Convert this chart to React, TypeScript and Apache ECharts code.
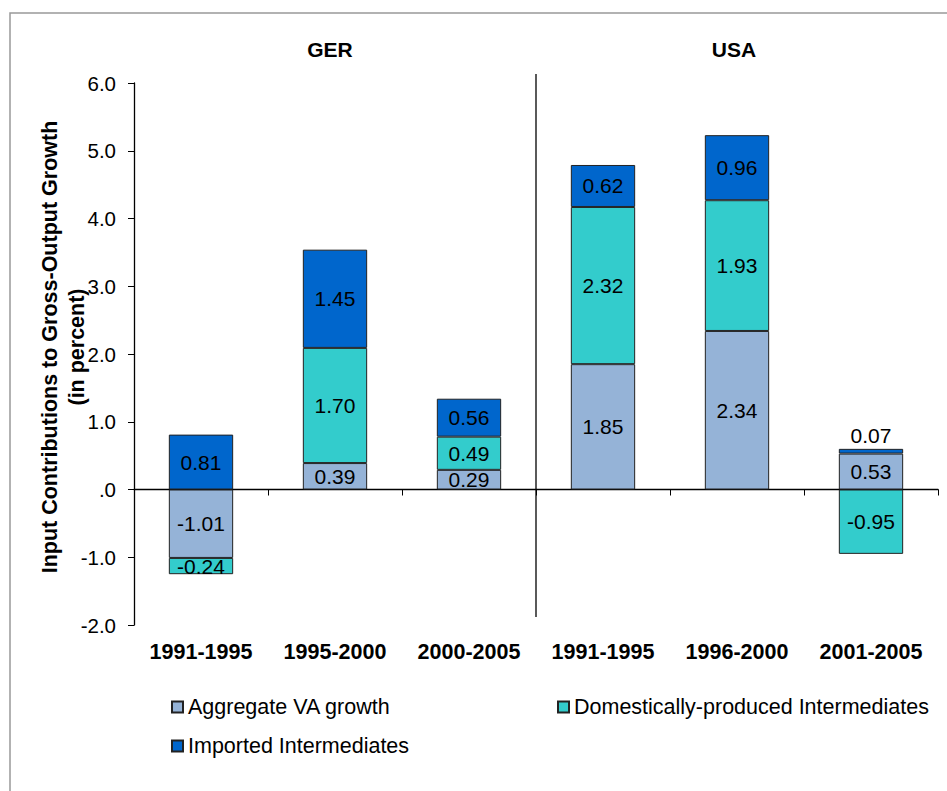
import React, { useEffect, useRef } from 'react';
import * as echarts from 'echarts';

const categories = ['1991-1995', '1995-2000', '2000-2005', '1991-1995', '1996-2000', '2001-2005'];
const groupTitles = ['GER', 'USA'];
const aggregateVA = [-1.01, 0.39, 0.29, 1.85, 2.34, 0.53];
const domesticInter = [-0.24, 1.70, 0.49, 2.32, 1.93, -0.95];
const importedInter = [0.81, 1.45, 0.56, 0.62, 0.96, 0.07];
const seriesNames = ['Aggregate VA growth', 'Domestically-produced Intermediates', 'Imported Intermediates'];
const seriesColors = ['#95B3D7', '#33CCCC', '#0066CC'];
const yMin = -2;
const yMax = 6;
const yStep = 1;

const FONT = 'Arial, "Liberation Sans", sans-serif';

function makeSeries(name: string, values: number[], color: string) {
  return {
    name,
    type: 'bar',
    stack: 'total',
    xAxisIndex: 0,
    barWidth: '48%',
    itemStyle: { color, borderColor: '#222', borderWidth: 1 },
    label: {
      show: true,
      position: 'inside',
      color: '#000',
      fontSize: 21,
      fontFamily: FONT,
      formatter: (p: any) => Number(p.value).toFixed(2),
    },
    data: values.map((v) =>
      Math.abs(v) < 0.1 ? { value: v, label: { position: 'top', distance: 3 } } : v
    ),
  };
}

export default function App() {
  const ref = useRef<HTMLDivElement>(null);
  useEffect(() => {
    if (!ref.current) return;
    const chart = echarts.init(ref.current, undefined, { renderer: 'svg' });
    const legendText = { fontSize: 21.5, color: '#000', fontFamily: FONT };
    chart.setOption({
      animation: false,
      backgroundColor: '#fff',
      textStyle: { fontFamily: FONT },
      grid: { left: 134, top: 83, right: 9, bottom: 166, containLabel: false },
      legend: [
        {
          data: [seriesNames[0]], left: 171, top: 696, padding: 0, icon: 'rect', itemWidth: 11, itemHeight: 11,
          textStyle: legendText, selectedMode: false,
        },
        {
          data: [seriesNames[1]], left: 557, top: 696, padding: 0, icon: 'rect', itemWidth: 11, itemHeight: 11,
          textStyle: legendText, selectedMode: false,
        },
        {
          data: [seriesNames[2]], left: 171, top: 735, padding: 0, icon: 'rect', itemWidth: 11, itemHeight: 11,
          textStyle: legendText, selectedMode: false,
        },
      ],
      xAxis: [
        {
          type: 'category',
          data: categories,
          position: 'bottom',
          axisLine: { show: true, onZero: true, lineStyle: { color: '#000', width: 1.3 } },
          axisTick: { show: true, alignWithLabel: false, length: 6, interval: 0, lineStyle: { color: '#000' } },
          axisLabel: { show: false },
          splitLine: { show: false },
        },
        {
          type: 'category',
          data: categories,
          position: 'bottom',
          axisLine: { show: false, onZero: false },
          axisTick: { show: false },
          axisLabel: {
            show: true, interval: 0, margin: 16, color: '#000', fontSize: 21.5, fontWeight: 'bold', fontFamily: FONT,
          },
          splitLine: { show: false },
        },
      ],
      yAxis: {
        type: 'value',
        min: yMin,
        max: yMax,
        interval: yStep,
        axisLine: { show: true, lineStyle: { color: '#000', width: 1.3 } },
        axisTick: { show: true, length: 6, lineStyle: { color: '#000' } },
        splitLine: { show: false },
        axisLabel: {
          color: '#000', fontSize: 20.5, margin: 18, fontFamily: FONT,
          formatter: (v: number) => (v === 0 ? '.0' : v.toFixed(1)),
        },
        name: 'Input Contributions to Gross-Output Growth\n(in percent)',
        nameLocation: 'middle',
        nameRotate: 90,
        nameGap: 44,
        nameMoveOverlap: false,
        nameTextStyle: { fontSize: 21.5, fontWeight: 'bold', color: '#000', lineHeight: 27, fontFamily: FONT, padding: [0, 0, 0, 14] },
      },
      series: [
        makeSeries(seriesNames[0], aggregateVA, seriesColors[0]),
        makeSeries(seriesNames[1], domesticInter, seriesColors[1]),
        makeSeries(seriesNames[2], importedInter, seriesColors[2]),
      ],
    });

    const p2 = chart.convertToPixel({ xAxisIndex: 0 }, 2) as number;
    const p3 = chart.convertToPixel({ xAxisIndex: 0 }, 3) as number;
    const p0 = chart.convertToPixel({ xAxisIndex: 0 }, 0) as number;
    const p5 = chart.convertToPixel({ xAxisIndex: 0 }, 5) as number;
    const sepX = (p2 + p3) / 2;
    const half = (p3 - p2) / 2;
    const leftCenter = (p0 - half + sepX) / 2;
    const rightCenter = (sepX + p5 + half) / 2;

    chart.setOption({
      graphic: [
        {
          type: 'rect', silent: true, z: -1,
          shape: { x: 10, y: 13, width: 1200, height: 1200 },
          style: { fill: 'none', stroke: '#999', lineWidth: 1.5 },
        },
        {
          type: 'line', silent: true,
          shape: { x1: sepX, y1: 74, x2: sepX, y2: 617 },
          style: { stroke: '#000', lineWidth: 1.3 },
        },
        {
          type: 'text', silent: true, x: leftCenter - 5, y: 49,
          style: { text: groupTitles[0], fontSize: 21, fontWeight: 'bold', fill: '#000', align: 'center', verticalAlign: 'middle', fontFamily: FONT },
        },
        {
          type: 'text', silent: true, x: rightCenter - 3, y: 49,
          style: { text: groupTitles[1], fontSize: 21, fontWeight: 'bold', fill: '#000', align: 'center', verticalAlign: 'middle', fontFamily: FONT },
        },
      ],
    });

    return () => chart.dispose();
  }, []);
  return <div ref={ref} style={{ position: 'fixed', left: 0, top: 0, width: 947, height: 791 }} />;
}
